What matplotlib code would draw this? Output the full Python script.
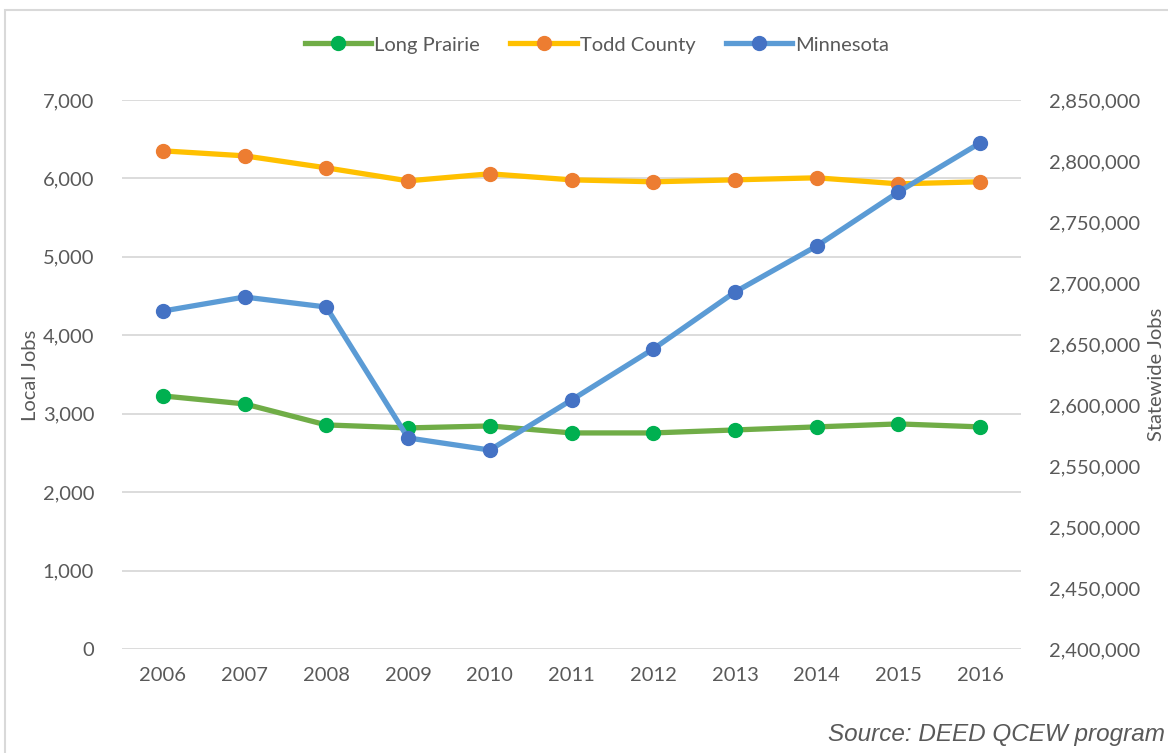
import matplotlib.pyplot as plt
import matplotlib.patches as mpatches
from matplotlib.ticker import FuncFormatter
import numpy as np

years = ['2006', '2007', '2008', '2009', '2010', '2011', '2012', '2013', '2014', '2015', '2016']
long_prairie = [3227, 3125, 2857, 2819, 2844, 2755, 2755, 2793, 2832, 2870, 2832]
todd_county = [6352, 6288, 6135, 5969, 6059, 5982, 5957, 5982, 6008, 5931, 5957]
minnesota = [2677000, 2688500, 2680300, 2573000, 2563100, 2604100,
             2645900, 2692600, 2730300, 2774600, 2814800]

plt.rcParams['font.family'] = ['Lato', 'DejaVu Sans']
txt = '#595959'
grid = '#D9D9D9'

fig = plt.figure(figsize=(11.68, 7.53), dpi=100)
ax = fig.add_axes([122/1168, 1-649/753, (1021-122)/1168, (649-100)/753])
ax2 = ax.twinx()

x = np.arange(len(years))
l1, = ax.plot(x, long_prairie, color='#70AD47', lw=3.8, marker='o', ms=10,
              mfc='#00B050', mec='#00B050', label='Long Prairie', zorder=3)
l2, = ax.plot(x, todd_county, color='#FFC000', lw=3.8, marker='o', ms=10,
              mfc='#ED7D31', mec='#ED7D31', label='Todd County', zorder=3)
l3, = ax2.plot(x, minnesota, color='#5B9BD5', lw=3.8, marker='o', ms=10,
               mfc='#4472C4', mec='#4472C4', label='Minnesota', zorder=3)

ax.set_xlim(-0.5, len(years) - 0.5)
ax.set_ylim(0, 7000)
ax.set_yticks(np.arange(0, 7001, 1000))
ax2.set_ylim(2400000, 2850000)
ax2.set_yticks(np.arange(2400000, 2850001, 50000))
fmt = FuncFormatter(lambda v, p: f'{int(v):,}')
ax.yaxis.set_major_formatter(fmt)
ax2.yaxis.set_major_formatter(fmt)
ax.set_xticks(x)
ax.set_xticklabels(years)

ax.grid(axis='y', color=grid, lw=1.3)
ax.set_axisbelow(True)
for a in (ax, ax2):
    for s in a.spines.values():
        s.set_visible(False)
    a.tick_params(length=0, labelsize=14.5, colors=txt)
ax.tick_params(axis='x', pad=13)
ax.tick_params(axis='y', pad=20)
ax2.tick_params(axis='y', pad=20)

fig.text(30/1168, 1-375/753, 'Local Jobs', rotation=90, ha='center', va='center',
         fontsize=14.5, color=txt)
fig.text(1156/1168, 1-374/753, 'Statewide Jobs', rotation=90, ha='center', va='center',
         fontsize=14.5, color=txt)

fig.legend(handles=[l1, l2, l3], loc='center', bbox_to_anchor=(597/1168, 1-45/753),
           ncol=3, frameon=False, fontsize=14.5, labelcolor=txt,
           handlelength=3.3, handletextpad=0.15, columnspacing=1.5)

fig.text(1165/1168, 1-735/753, 'Source: DEED QCEW program', ha='right', va='center',
         fontsize=17.5, color='#595959', style='italic', family='Liberation Sans')

fig.patches.append(mpatches.Rectangle((5/1168, -0.1), 1.2, 1-10/753+0.1,
                                      transform=fig.transFigure, fill=False,
                                      ec='#D9D9D9', lw=1.5))

fig.savefig('out.png', dpi=100)
